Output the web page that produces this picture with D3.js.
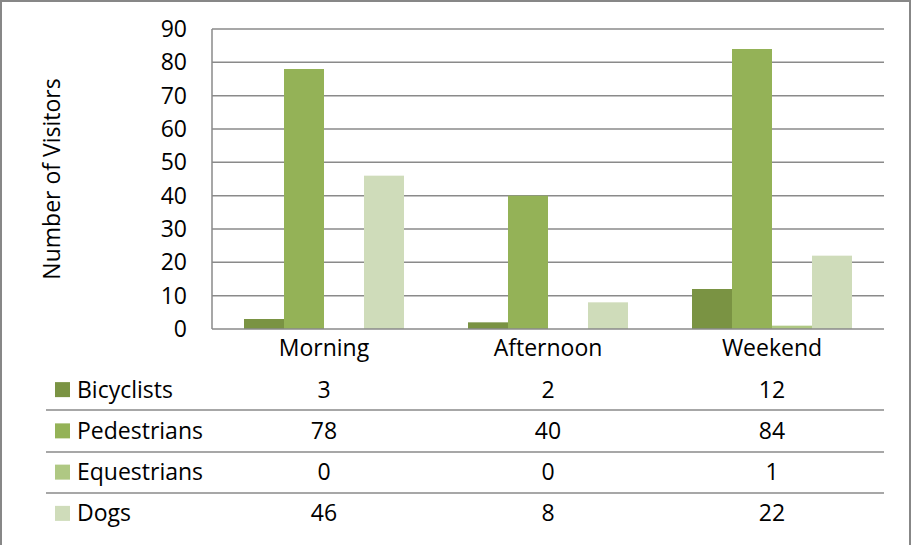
<!DOCTYPE html>
<html>
<head>
<meta charset="utf-8">
<script src="https://cdn.jsdelivr.net/npm/d3@7"></script>
<style>
  html, body { margin: 0; padding: 0; background: #fff; }
  svg { display: block; }
  text { font-family: "Open Sans", "Noto Sans", sans-serif; fill: #000; }
</style>
</head>
<body>
<svg id="chart" width="913" height="545"></svg>
<script>
const categories = ["Morning", "Afternoon", "Weekend"];
const seriesNames = ["Bicyclists", "Pedestrians", "Equestrians", "Dogs"];
const bicyclists = [3, 2, 12];
const pedestrians = [78, 40, 84];
const equestrians = [0, 0, 1];
const dogs = [46, 8, 22];
const yTicks = [0, 10, 20, 30, 40, 50, 60, 70, 80, 90];
const colors = ["#7a9343", "#94b257", "#afc883", "#cfdcba"];
const yTitle = "Number of Visitors";

const seriesValues = [bicyclists, pedestrians, equestrians, dogs];
const FS = "23px";

const svg = d3.select("#chart");
const plotLeft = 212, plotRight = 884, plotTop = 29, plotBottom = 329;

// outer frame
svg.append("rect")
  .attr("x", 1).attr("y", 1).attr("width", 909).attr("height", 600)
  .attr("fill", "none").attr("stroke", "#878787").attr("stroke-width", 2);

const y = d3.scaleLinear().domain([0, 90]).range([plotBottom, plotTop]);
const x0 = d3.scaleBand().domain(categories).range([plotLeft, plotRight]).padding(0);
const x1 = d3.scaleBand().domain(seriesNames).range([0, x0.bandwidth()])
  .paddingInner(0).paddingOuter(0.8);

// gridlines
svg.append("g").selectAll("line").data(yTicks.filter(d => d > 0)).join("line")
  .attr("x1", plotLeft).attr("x2", plotRight)
  .attr("y1", d => y(d)).attr("y2", d => y(d))
  .attr("stroke", "#8a8a8a").attr("stroke-width", 1.5);

// y axis labels
const yAxis = d3.axisLeft(y).tickValues(yTicks).tickSize(0).tickPadding(25);
const ya = svg.append("g").attr("transform", `translate(${plotLeft},0)`).call(yAxis);
ya.select(".domain").remove();
ya.selectAll("text").style("font-size", FS).style("font-family", '"Open Sans", sans-serif').attr("fill", "#000");

// bars
categories.forEach((cat, ci) => {
  const g = svg.append("g").attr("transform", `translate(${x0(cat)},0)`);
  g.selectAll("rect").data(seriesNames.map((s, si) => ({ s, v: seriesValues[si][ci], si })))
    .join("rect")
    .attr("x", d => x1(d.s))
    .attr("width", x1.bandwidth())
    .attr("y", d => y(d.v))
    .attr("height", d => y(0) - y(d.v))
    .attr("fill", d => colors[d.si]);
});

// axes lines
svg.append("line").attr("x1", plotLeft).attr("x2", plotLeft).attr("y1", plotTop).attr("y2", plotBottom)
  .attr("stroke", "#8a8a8a").attr("stroke-width", 1.5);
svg.append("line").attr("x1", plotLeft).attr("x2", plotRight).attr("y1", plotBottom).attr("y2", plotBottom)
  .attr("stroke", "#8a8a8a").attr("stroke-width", 1.5);

// y title
svg.append("text")
  .attr("transform", `translate(60,179) rotate(-90)`)
  .attr("text-anchor", "middle")
  .style("font-size", FS)
  .text(yTitle);

// category labels
const xa = svg.append("g").attr("transform", `translate(0,${plotBottom})`)
  .call(d3.axisBottom(x0).tickSize(0).tickPadding(11));
xa.select(".domain").remove();
xa.selectAll("text").style("font-size", FS).style("font-family", '"Open Sans", sans-serif').attr("fill", "#000");

// data table
const rowY = d3.scaleBand().domain(seriesNames).range([369, 534]);
svg.append("g").selectAll("line").data(seriesNames.slice(1)).join("line")
  .attr("x1", 46).attr("x2", plotRight)
  .attr("y1", d => Math.round(rowY(d))).attr("y2", d => Math.round(rowY(d)))
  .attr("stroke", "#8a8a8a").attr("stroke-width", 1.5);

seriesNames.forEach((s, si) => {
  const cy = rowY(s) + rowY.bandwidth() / 2;
  svg.append("rect").attr("x", 55).attr("y", cy - 7.5).attr("width", 15).attr("height", 15)
    .attr("fill", colors[si]);
  svg.append("text").attr("x", 77).attr("y", cy).attr("dy", "0.35em")
    .style("font-size", FS).text(s);
  categories.forEach((c, ci) => {
    svg.append("text").attr("x", x0(c) + x0.bandwidth() / 2).attr("y", cy).attr("dy", "0.35em")
      .attr("text-anchor", "middle").style("font-size", FS)
      .text(seriesValues[si][ci]);
  });
});
</script>
</body>
</html>
